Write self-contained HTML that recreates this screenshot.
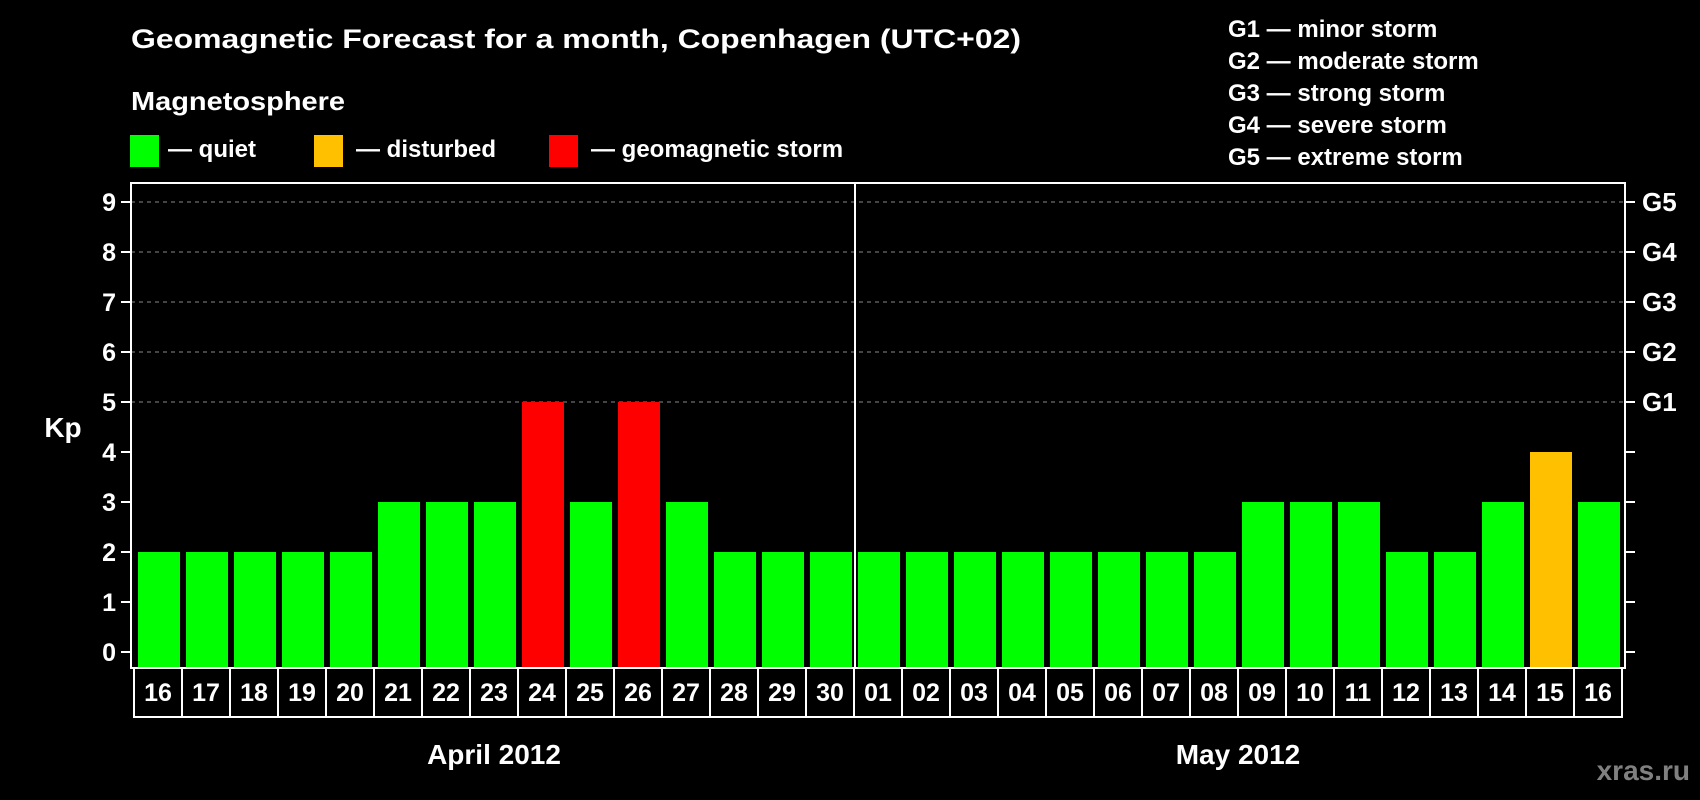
<!DOCTYPE html>
<html><head><meta charset="utf-8"><style>
html,body{margin:0;padding:0;background:#000;}
svg{display:block;font-family:"Liberation Sans",Arial,sans-serif;font-weight:bold;}
</style></head><body>
<svg id="chart" width="1700" height="800" viewBox="0 0 1700 800" xmlns="http://www.w3.org/2000/svg">
<rect x="0" y="0" width="1700" height="800" fill="#000"/>
<text x="131" y="48" fill="#fff" font-size="27" textLength="890" lengthAdjust="spacingAndGlyphs">Geomagnetic Forecast for a month, Copenhagen (UTC+02)</text>
<text x="131" y="110" fill="#fff" font-size="26" textLength="214" lengthAdjust="spacingAndGlyphs">Magnetosphere</text>
<g>
<rect x="130" y="135" width="29" height="32" fill="#00ff00"/>
<text x="168" y="157" fill="#fff" font-size="24">— quiet</text></g>
<g>
<rect x="314" y="135" width="29" height="32" fill="#ffc000"/>
<text x="356" y="157" fill="#fff" font-size="24">— disturbed</text></g>
<g>
<rect x="549" y="135" width="29" height="32" fill="#ff0000"/>
<text x="591" y="157" fill="#fff" font-size="24">— geomagnetic storm</text></g>
<g font-size="24" fill="#fff">
<text x="1228" y="37">G1 — minor storm</text>
<text x="1228" y="69">G2 — moderate storm</text>
<text x="1228" y="101">G3 — strong storm</text>
<text x="1228" y="133">G4 — severe storm</text>
<text x="1228" y="165">G5 — extreme storm</text>
</g>
<text x="63" y="437" fill="#fff" font-size="28" text-anchor="middle">Kp</text>
<g id="grid"></g>
<g id="bars"></g>
<rect x="131" y="183" width="1494" height="485" fill="none" stroke="#fff" stroke-width="2"/>
<line x1="855" y1="183" x2="855" y2="668" stroke="#fff" stroke-width="2"/>
<g id="axes"></g>
<g id="dates"></g>
<text x="494" y="764" fill="#fff" font-size="28" text-anchor="middle">April 2012</text>
<text x="1238" y="764" fill="#fff" font-size="28" text-anchor="middle">May 2012</text>
<text x="1690" y="780" fill="#808080" font-size="28" text-anchor="end">xras.ru</text>
</svg>
<script>
const days = ["16","17","18","19","20","21","22","23","24","25","26","27","28","29","30","01","02","03","04","05","06","07","08","09","10","11","12","13","14","15","16"];
const kpValues = [2,2,2,2,2,3,3,3,5,3,5,3,2,2,2,2,2,2,2,2,2,2,2,3,3,3,2,2,3,4,3];
const yTicks = [0,1,2,3,4,5,6,7,8,9];
const gLabels = ["G1","G2","G3","G4","G5"];
const gLevels = [5,6,7,8,9];

const NS = "http://www.w3.org/2000/svg";
const plotL = 131, plotR = 1625, plotB = 668;
const slot0 = 134, slotW = 48;
function yScale(v){ return 652 - v*50; }
function xSlot(i){ return slot0 + i*slotW; }
function mk(tag, attrs, parent){ const e=document.createElementNS(NS,tag); for(const k in attrs) e.setAttribute(k,attrs[k]); parent.appendChild(e); return e; }
function colorFor(v){ return v>=5 ? "#ff0000" : (v>=4 ? "#ffc000" : "#00ff00"); }

const grid = document.getElementById("grid");
gLevels.forEach(function(v){
  const l = mk("line",{x1:plotL,x2:plotR,y1:yScale(v),y2:yScale(v),stroke:"#888","stroke-width":1,"stroke-dasharray":"4 4"},grid);
  
  
});

const bars = document.getElementById("bars");
kpValues.forEach(function(v,i){
  const r = mk("rect",{x:xSlot(i)+4,y:yScale(v),width:42,height:plotB-yScale(v),fill:colorFor(v)},bars);
  
  
});

const axes = document.getElementById("axes");
yTicks.forEach(function(v){
  const y = yScale(v);
  const t1 = mk("line",{x1:121,x2:plotL,y1:y,y2:y,stroke:"#fff","stroke-width":2},axes);
  
  
  const t2 = mk("line",{x1:plotR,x2:1635,y1:y,y2:y,stroke:"#fff","stroke-width":2},axes);
  
  
  const tx = mk("text",{x:116,y:y+9,fill:"#fff","font-size":25,"text-anchor":"end"},axes);
  tx.textContent = String(v);
  
  
});
gLabels.forEach(function(g,i){
  const tx = mk("text",{x:1642,y:yScale(gLevels[i])+9,fill:"#fff","font-size":26},axes);
  tx.textContent = g;
  
  
});

const dates = document.getElementById("dates");
const box = mk("rect",{x:slot0,y:plotB,width:days.length*slotW,height:49,fill:"none",stroke:"#fff","stroke-width":2},dates);


days.forEach(function(d,i){
  if(i>0){
    const l = mk("line",{x1:xSlot(i),x2:xSlot(i),y1:plotB,y2:717,stroke:"#fff","stroke-width":2},dates);
    
    
  }
  const t = mk("text",{x:xSlot(i)+slotW/2,y:701,fill:"#fff","font-size":25,"text-anchor":"middle"},dates);
  t.textContent = d;
  
  
});
</script>
</body></html>
